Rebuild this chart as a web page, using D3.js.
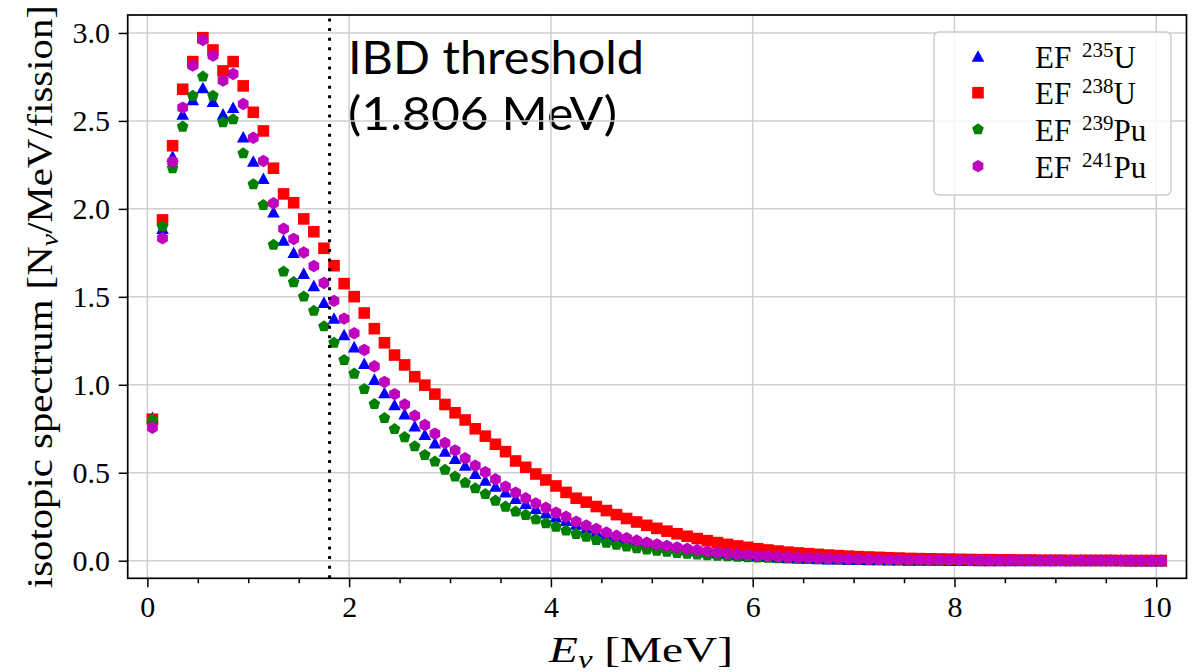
<!DOCTYPE html>
<html><head><meta charset="utf-8">
<script src="https://cdn.jsdelivr.net/npm/d3@7"></script>
<style>body{margin:0;background:#fff;}svg{display:block;}</style>
</head><body>
<svg id="chart" width="1196" height="672"></svg>
<script>
// ---------- data ----------
const energy = [
 0.05,0.15,0.25,0.35,0.45,0.55,0.65,0.75,0.85,0.95,
 1.05,1.15,1.25,1.35,1.45,1.55,1.65,1.75,1.85,1.95,
 2.05,2.15,2.25,2.35,2.45,2.55,2.65,2.75,2.85,2.95,
 3.05,3.15,3.25,3.35,3.45,3.55,3.65,3.75,3.85,3.95,
 4.05,4.15,4.25,4.35,4.45,4.55,4.65,4.75,4.85,4.95,
 5.05,5.15,5.25,5.35,5.45,5.55,5.65,5.75,5.85,5.95,
 6.05,6.15,6.25,6.35,6.45,6.55,6.65,6.75,6.85,6.95,
 7.05,7.15,7.25,7.35,7.45,7.55,7.65,7.75,7.85,7.95,
 8.05,8.15,8.25,8.35,8.45,8.55,8.65,8.75,8.85,8.95,
 9.05,9.15,9.25,9.35,9.45,9.55,9.65,9.75,9.85,9.95,
 10.05];
const u235 = [
 0.815,1.890,2.300,2.540,2.622,2.690,2.612,2.540,2.578,2.410,
 2.272,2.174,1.984,1.823,1.753,1.635,1.565,1.470,1.380,1.286,
 1.217,1.122,1.032,0.956,0.888,0.836,0.767,0.719,0.671,0.624,
 0.582,0.544,0.497,0.459,0.425,0.392,0.356,0.327,0.299,0.273,
 0.250,0.230,0.209,0.186,0.166,0.149,0.133,0.121,0.109,0.098,
 0.088,0.080,0.072,0.064,0.058,0.051,0.045,0.041,0.036,0.032,
 0.028,0.025,0.022,0.019,0.017,0.015,0.013,0.012,0.011,0.009,
 0.008,0.007,0.007,0.006,0.006,0.005,0.004,0.004,0.004,0.003,
 0.003,0.003,0.002,0.002,0.002,0.002,0.002,0.001,0.001,0.001,
 0.001,0.001,0.001,0.001,0.001,0.001,0.001,0.000,0.000,0.000,
 0.000];
const u238 = [
 0.804,1.937,2.359,2.680,2.837,2.973,2.903,2.784,2.837,2.699,
 2.549,2.443,2.231,2.085,2.035,1.943,1.870,1.776,1.677,1.575,
 1.501,1.408,1.319,1.239,1.169,1.113,1.046,0.998,0.947,0.888,
 0.841,0.800,0.750,0.708,0.662,0.620,0.567,0.531,0.493,0.459,
 0.425,0.388,0.355,0.333,0.308,0.285,0.262,0.240,0.220,0.201,
 0.184,0.168,0.153,0.139,0.126,0.114,0.103,0.093,0.084,0.076,
 0.068,0.061,0.055,0.049,0.044,0.040,0.036,0.032,0.029,0.026,
 0.023,0.021,0.019,0.017,0.015,0.013,0.012,0.011,0.010,0.009,
 0.008,0.007,0.006,0.006,0.005,0.005,0.004,0.004,0.003,0.003,
 0.003,0.002,0.002,0.002,0.002,0.002,0.001,0.001,0.001,0.001,
 0.001];
const pu239 = [
 0.800,1.899,2.231,2.467,2.643,2.752,2.643,2.492,2.509,2.316,
 2.140,2.022,1.795,1.643,1.583,1.501,1.420,1.332,1.239,1.141,
 1.063,0.976,0.890,0.811,0.748,0.702,0.650,0.601,0.563,0.516,
 0.478,0.443,0.411,0.379,0.341,0.307,0.279,0.260,0.235,0.213,
 0.193,0.171,0.152,0.136,0.118,0.102,0.090,0.080,0.071,0.063,
 0.056,0.050,0.044,0.039,0.035,0.031,0.028,0.025,0.022,0.020,
 0.018,0.016,0.014,0.013,0.011,0.010,0.009,0.008,0.007,0.006,
 0.006,0.005,0.004,0.004,0.003,0.003,0.003,0.002,0.002,0.002,
 0.002,0.001,0.001,0.001,0.001,0.001,0.001,0.001,0.000,0.000,
 0.000,0.000,0.000,0.000,0.000,0.000,0.000,0.000,0.000,0.000,
 0.000];
const pu241 = [
 0.756,1.833,2.268,2.575,2.814,2.960,2.871,2.729,2.767,2.596,
 2.404,2.272,2.032,1.887,1.829,1.752,1.675,1.579,1.477,1.376,
 1.293,1.198,1.105,1.016,0.947,0.888,0.824,0.771,0.722,0.669,
 0.627,0.582,0.540,0.503,0.463,0.421,0.387,0.355,0.326,0.301,
 0.273,0.250,0.222,0.200,0.181,0.160,0.142,0.128,0.115,0.103,
 0.093,0.084,0.076,0.068,0.061,0.053,0.047,0.042,0.037,0.033,
 0.029,0.026,0.023,0.020,0.018,0.016,0.014,0.013,0.012,0.010,
 0.009,0.008,0.007,0.007,0.006,0.005,0.005,0.004,0.004,0.003,
 0.003,0.003,0.003,0.002,0.002,0.002,0.002,0.002,0.001,0.001,
 0.001,0.001,0.001,0.001,0.001,0.001,0.001,0.001,0.000,0.000,
 0.000];
const seriesIsotopes = ["235", "238", "239", "241"];
const seriesElements = ["U", "U", "Pu", "Pu"];
const seriesColors = ["#0000ff", "#ff0000", "#008000", "#bf00bf"];
const seriesShapes = ["triangle", "square", "pentagon", "hexagon"];
const xTicks = [0, 2, 4, 6, 8, 10];
const xMinorTicks = [0.5, 1, 1.5, 2.5, 3, 3.5, 4.5, 5, 5.5, 6.5, 7, 7.5, 8.5, 9, 9.5];
const yTicks = [0, 0.5, 1, 1.5, 2, 2.5, 3];
const yTickLabels = ["0.0", "0.5", "1.0", "1.5", "2.0", "2.5", "3.0"];
const ibdThreshold = 1.806;
const ibdLines = ["IBD threshold", "(1.806 MeV)"];

const seriesValues = [u235, u238, pu239, pu241];

// ---------- layout ----------
const L = 127.7, R = 1186.5, T = 15, B = 578.3;
const serif = "'Liberation Serif', 'Times New Roman', serif";
const svg = d3.select("#chart");
const x = d3.scaleLinear().domain([-0.195, 10.30]).range([L, R]);
const y = d3.scaleLinear().domain([-0.100, 3.102]).range([B, T]);

// marker shapes
function shapePath(kind) {
  if (kind === "triangle") { const w = 12.6, h = 11.6; return `M0,${-h/2}L${w/2},${h/2}L${-w/2},${h/2}Z`; }
  if (kind === "square") { const s = 11.6; return `M${-s/2},${-s/2}H${s/2}V${s/2}H${-s/2}Z`; }
  const n = kind === "pentagon" ? 5 : 6;
  const r = kind === "pentagon" ? 6.1 : 6.2;
  const pts = d3.range(n).map(k => { const a = -Math.PI/2 + k*2*Math.PI/n; return [r*Math.cos(a), r*Math.sin(a)]; });
  return "M" + pts.map(p => p[0].toFixed(2) + "," + p[1].toFixed(2)).join("L") + "Z";
}

// IBD annotation (under grid, as in reference)
const ibd = svg.append("g").attr("font-family", "Lato, 'Open Sans', sans-serif").attr("font-size", 47).attr("fill", "#000");
ibd.append("text").attr("x", 348).attr("y", 74).attr("textLength", 296).attr("lengthAdjust", "spacingAndGlyphs").text(ibdLines[0]);
ibd.append("text").attr("x", 348).attr("y", 130).attr("textLength", 269).attr("lengthAdjust", "spacingAndGlyphs").text(ibdLines[1]);

// grid
const grid = svg.append("g").attr("stroke", "#cfcfcf").attr("stroke-width", 1.5);
grid.selectAll("line.gx").data(xTicks).join("line").attr("class", "gx")
  .attr("x1", d => x(d)).attr("x2", d => x(d)).attr("y1", T).attr("y2", B);
grid.selectAll("line.gy").data(yTicks).join("line").attr("class", "gy")
  .attr("x1", L).attr("x2", R).attr("y1", d => y(d)).attr("y2", d => y(d));

// points
const plot = svg.append("g");
seriesValues.forEach((vals, si) => {
  const pts = vals.map((v, i) => ({ e: energy[i], v }));
  plot.append("g").selectAll("path").data(pts).join("path")
    .attr("d", shapePath(seriesShapes[si]))
    .attr("transform", d => `translate(${x(d.e)},${y(d.v)})`)
    .attr("fill", seriesColors[si]);
});

// threshold dotted line
svg.append("line")
  .attr("x1", x(ibdThreshold)).attr("x2", x(ibdThreshold))
  .attr("y1", B).attr("y2", T)
  .attr("stroke", "#000").attr("stroke-width", 3).attr("stroke-dasharray", "3,6.6");

// axes
const xAxis = svg.append("g").attr("transform", `translate(0,${B})`)
  .call(d3.axisBottom(x).tickValues(xTicks).tickSize(9).tickPadding(8.5).tickFormat(d3.format("d")));
const xMinor = svg.append("g").attr("transform", `translate(0,${B})`)
  .call(d3.axisBottom(x).tickValues(xMinorTicks).tickSize(5).tickFormat(""));
const yAxis = svg.append("g").attr("transform", `translate(${L},0)`)
  .call(d3.axisLeft(y).tickValues(yTicks).tickSize(9).tickPadding(8.7).tickFormat((d, i) => yTickLabels[i]));
[xAxis, xMinor, yAxis].forEach(g => {
  g.select(".domain").remove();
  g.selectAll(".tick line").attr("stroke", "#000").attr("stroke-width", 1.5);
  g.selectAll(".tick text").attr("fill", "#000").attr("font-family", serif).attr("font-size", 30);
});

// frame
svg.append("rect").attr("x", L).attr("y", T).attr("width", R - L).attr("height", B - T)
  .attr("fill", "none").attr("stroke", "#000").attr("stroke-width", 1.7);

// axis labels
const xl = svg.append("text").attr("x", 549).attr("y", 662).attr("font-family", serif).attr("font-size", 36).attr("fill", "#000")
  .attr("textLength", 184).attr("lengthAdjust", "spacingAndGlyphs");
xl.append("tspan").attr("font-style", "italic").text("E");
xl.append("tspan").attr("font-style", "italic").attr("font-size", 25).attr("dy", 6).text("ν");
xl.append("tspan").attr("dy", -6).text(" [MeV]");

const yl = svg.append("text").attr("transform", `translate(52,${(T + B) / 2}) rotate(-90)`)
  .attr("text-anchor", "middle").attr("font-family", serif).attr("font-size", 36).attr("fill", "#000")
  .attr("textLength", 583).attr("lengthAdjust", "spacingAndGlyphs");
yl.append("tspan").text("isotopic spectrum [N");
yl.append("tspan").attr("font-style", "italic").attr("font-size", 25).attr("dy", 6).text("ν");
yl.append("tspan").attr("dy", -6).text("/MeV/fission]");

// legend
const lg = svg.append("g");
lg.append("rect").attr("x", 934).attr("y", 32).attr("width", 237).attr("height", 163).attr("rx", 5)
  .attr("fill", "#fff").attr("fill-opacity", 0.8).attr("stroke", "#cccccc").attr("stroke-width", 1.5);
seriesIsotopes.forEach((iso, i) => {
  const cy = 56 + i * 36.7;
  lg.append("path").attr("d", shapePath(seriesShapes[i])).attr("transform", `translate(978,${cy})`).attr("fill", seriesColors[i]);
  const t = lg.append("text").attr("x", 1035).attr("y", cy + 11.7).attr("font-family", serif).attr("font-size", 31).attr("fill", "#000");
  t.append("tspan").text("EF ");
  t.append("tspan").attr("font-size", 21).attr("dy", -11).attr("dx", 3).text(iso);
  t.append("tspan").attr("dy", 11).text(seriesElements[i]);
});
</script>
</body></html>
